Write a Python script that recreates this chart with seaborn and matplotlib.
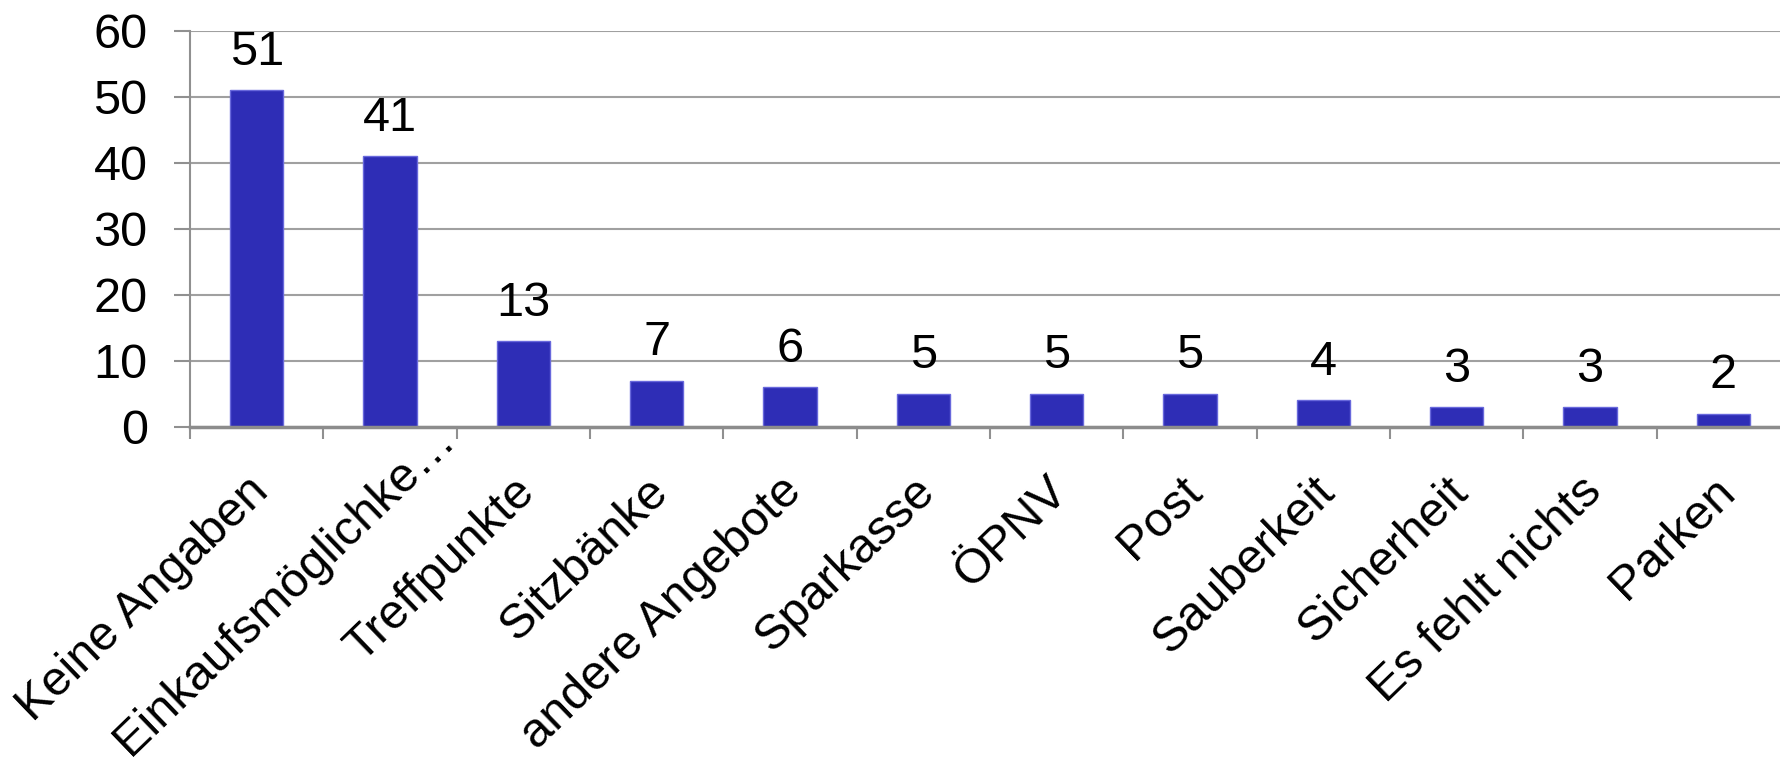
import matplotlib
matplotlib.use("Agg")
import matplotlib.pyplot as plt
from matplotlib.transforms import offset_copy
import seaborn as sns
import pandas as pd
import numpy as np

categories = ["Keine Angaben", "Einkaufsmöglichke…", "Treffpunkte", "Sitzbänke",
              "andere Angebote", "Sparkasse", "ÖPNV", "Post", "Sauberkeit",
              "Sicherheit", "Es fehlt nichts", "Parken"]
values = [51, 41, 13, 7, 6, 5, 5, 5, 4, 3, 3, 2]
yticks = [0, 10, 20, 30, 40, 50, 60]

sns.set_style("white")
plt.rcParams['font.family'] = ['Liberation Sans', 'DejaVu Sans']
plt.rcParams['text.color'] = 'black'
plt.rcParams['xtick.color'] = 'black'
plt.rcParams['ytick.color'] = 'black'
plt.rcParams['xtick.labelcolor'] = 'black'
plt.rcParams['ytick.labelcolor'] = 'black'

df = pd.DataFrame({"cat": categories, "val": values})

W, H = 1780, 766
fig = plt.figure(figsize=(W / 100, H / 100), dpi=100)
ax = fig.add_axes([190 / W, 1 - 426.7 / H, 1600 / W, (426.7 - 31) / H])

sns.barplot(data=df, x="cat", y="val", ax=ax, color="#2E2DB6", width=0.4,
            saturation=1, edgecolor="#6868DC", linewidth=1, zorder=3)

FS = 35
ax.set_ylim(0, 60)
ax.set_xlim(-0.5, len(categories) - 0.5)
ax.set_yticks(yticks)
ax.set_yticklabels([str(t) for t in yticks], fontsize=FS, color="black")
ax.yaxis.grid(True, color="#A0A0A0", linewidth=1.5, zorder=0)
ax.set_axisbelow(True)

ax.set_xlabel("")
ax.set_ylabel("")

# boundary ticks on x axis, category labels drawn as rotated texts
ax.set_xticks([])
ax.set_xticks(np.arange(len(categories) + 1) - 0.5, minor=True)
ax.tick_params(axis="x", which="minor", length=8.6, width=1.5, color="#909090",
               direction="out", bottom=True, labelbottom=False)
ax.tick_params(axis="y", which="major", length=11.5, width=1.5, color="#909090",
               direction="out", left=True, pad=19)

base = ax.get_xaxis_transform()
label_shift = {1: (58, -6)}
for i, cat in enumerate(categories):
    dx, dy = label_shift.get(i, (5, -58))
    tr = offset_copy(base, fig=fig, x=dx, y=dy, units="dots")
    ax.text(i, 0, cat, transform=tr, rotation=44, ha="right", va="center",
            rotation_mode="anchor", fontsize=FS, color="black", clip_on=False)

for s in ["top", "right"]:
    ax.spines[s].set_visible(False)
ax.spines["left"].set_color("#909090")
ax.spines["left"].set_linewidth(1.5)
ax.spines["bottom"].set_color("#8C8C8C")
ax.spines["bottom"].set_linewidth(2.5)
ax.spines["bottom"].set_zorder(4)

for c in ax.containers:
    ax.bar_label(c, labels=[str(v) for v in values], padding=11, fontsize=FS,
                 color="black")

fig.savefig("out.png", dpi=100)
